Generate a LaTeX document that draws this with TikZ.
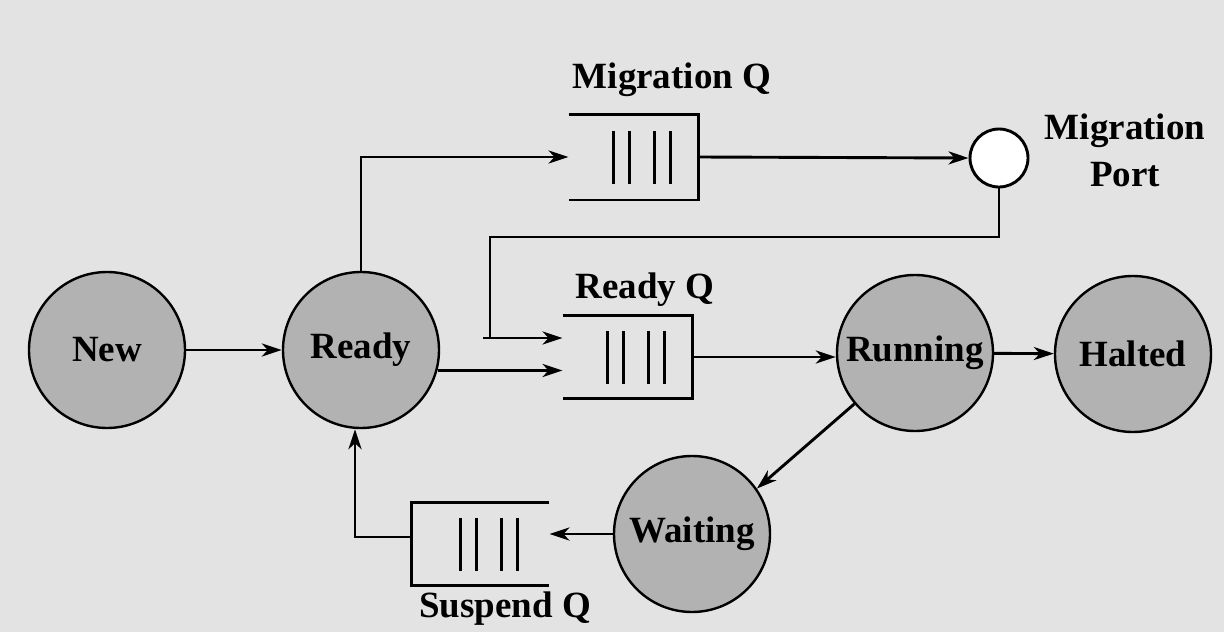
\documentclass[tikz,border=0pt]{standalone}
\usepackage{fontspec}
\setmainfont{Liberation Serif}
\usetikzlibrary{arrows.meta,calc}
\definecolor{paper}{gray}{0.89}
\definecolor{statefill}{gray}{0.70}
\begin{document}
\begin{tikzpicture}[x=1pt,y=-1pt,
  line width=2.9pt,
  arr/.style={-{Stealth[length=20pt,width=13pt,inset=6pt]}},
  statenode/.style={circle,draw,line width=2.4pt,fill=statefill,minimum size=156pt,
    inner sep=0pt,font=\fontsize{37}{40}\selectfont\bfseries},
  qslot/.style={rectangle,inner sep=0pt,minimum height=80pt},
  portnode/.style={circle,draw,fill=white,minimum size=58pt,inner sep=0pt},
  lbl/.style={font=\fontsize{37}{47}\selectfont\bfseries,inner sep=0pt,align=center}]

% page background
\useasboundingbox (0,0) rectangle (1224,632);
\fill[paper] (0,0) rectangle (1224,632);

% process states
\node[statenode] (new)     at (107,350)  {New};
\node[statenode] (ready)   at (361,350)  {Ready};
\node[statenode] (running) at (915,353)  {Running};
\node[statenode] (halted)  at (1133,354) {Halted};
\node[statenode] (waiting) at (692,534)  {Waiting};

% migration port
\node[portnode] (port) at (999,158) {};
\node[lbl] (portlbl) at (1125,150) {Migration\\Port};

% queues (slots for the open boxes)
\node[qslot,minimum width=127pt,minimum height=83pt] (mq) at (633.5,157) {};
\node[qslot,minimum width=127pt] (rq) at (627.5,357) {};
\node[qslot,minimum width=135pt] (sq) at (480.5,544) {};

% open boxes: migration and ready queues open on the left, suspend queue on the right
\draw (mq.north west) -- (mq.north east) -- (mq.south east) -- (mq.south west);
\draw (rq.north west) -- (rq.north east) -- (rq.south east) -- (rq.south west);
\draw (sq.north east) -- (sq.north west) -- (sq.south west) -- (sq.south east);

% waiting entries in each queue
\foreach \q in {mq,rq,sq}
  \foreach \dx in {-20,-4,21,37}
    \draw[line width=2.4pt] ($(\q.center)+(\dx,-26)$) -- ++(0,53);

% queue labels
\node[lbl,anchor=base] (mqlbl) at (672,88)  {Migration Q};
\node[lbl,anchor=base] (rqlbl) at (645,298) {Ready Q};
\node[lbl,anchor=base] (sqlbl) at (505,617) {Suspend Q};

% transitions
\draw[arr] (new) -- (ready);
\draw[arr] (ready.north) |- (mq.west);
\draw[arr] (mq.east) -- (port.west);

\coordinate (portbend) at (490,237);
\coordinate (rqin) at ($(rq.west)+(0,-19)$);
\draw (port.south) |- (portbend) -- (portbend |- rqin);
\draw[arr] ($(portbend |- rqin)+(-7,0)$) -- (rqin);

\draw[arr] (ready.-15) -- (ready.-15 -| rq.west);
\draw[arr] (rq.east) -- (rq.east -| running.west);
\draw[arr] (running) -- (halted);
\draw[arr] (running.220) -- (waiting.35);
\draw[arr] (waiting.west) -- (waiting.west -| sq.east);

\coordinate (sqout) at ($(sq.west)+(0,-7)$);
\draw[arr] (sqout) -| ($(ready.south)+(-6,0)$);
\end{tikzpicture}
\end{document}
